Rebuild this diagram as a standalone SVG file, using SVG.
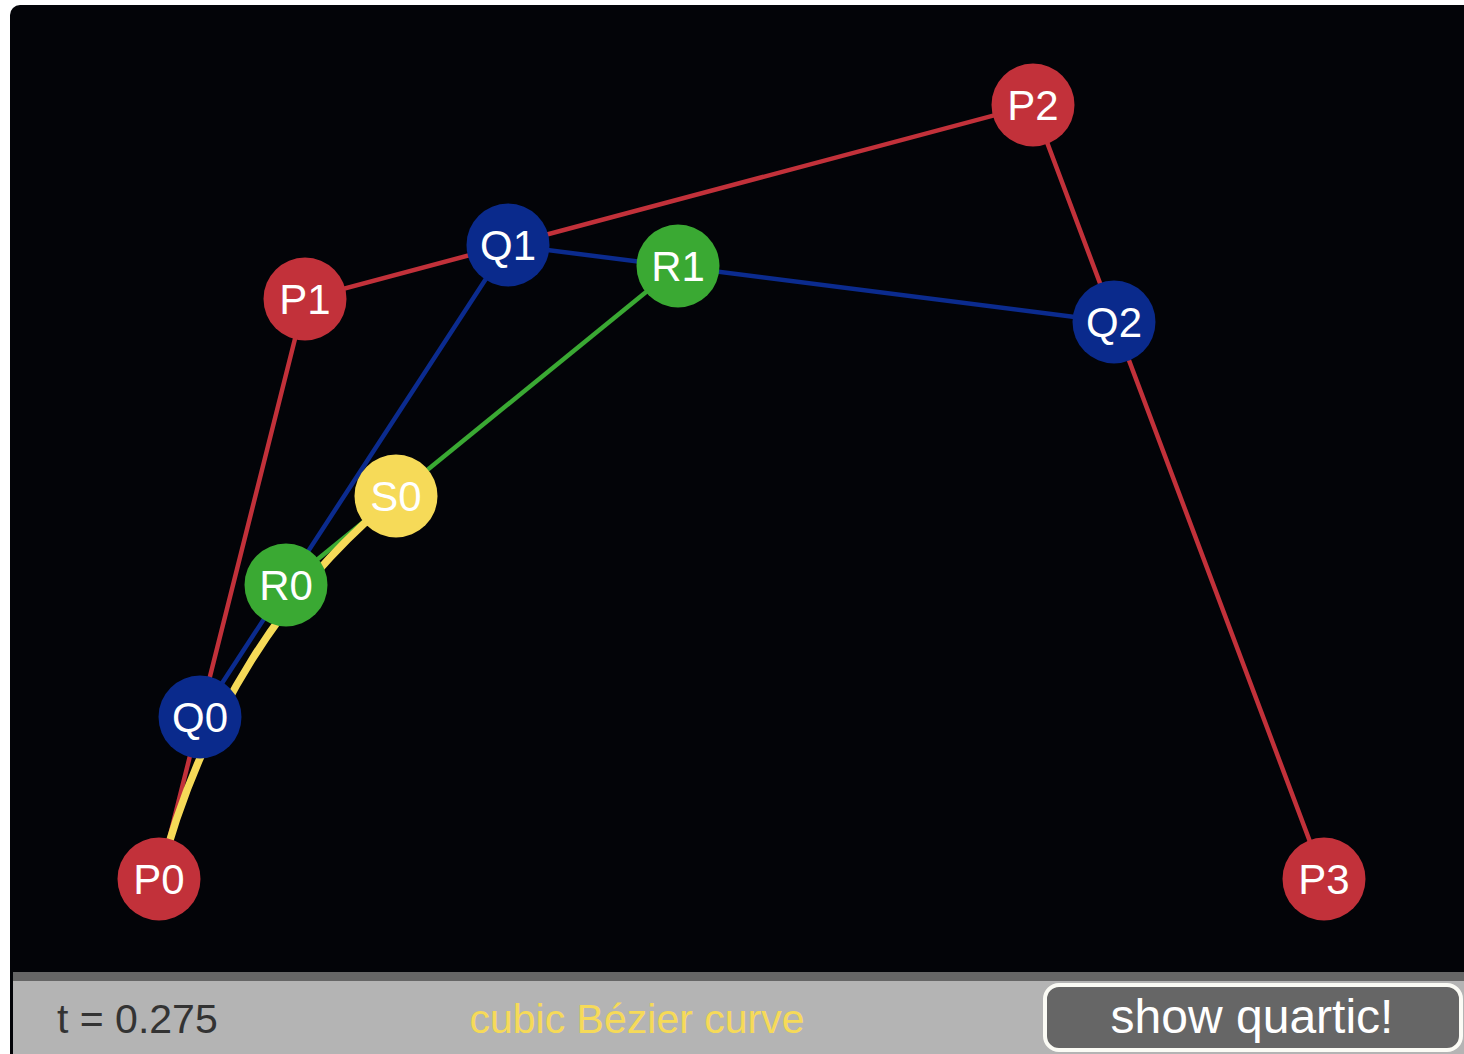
<svg xmlns="http://www.w3.org/2000/svg" width="1464" height="1054" viewBox="0 0 1464 1054">
<style>
.lbl{font-family:"Liberation Sans",Arial,sans-serif;font-size:42px;fill:#ffffff;text-anchor:middle}
.red{fill:#c2313a}.blue{fill:#0a2a8c}.green{fill:#3aa933}.yellow{fill:#f6da58}
.lr{stroke:#c2313a;stroke-width:4.5;fill:none}
.lb{stroke:#0b2b8e;stroke-width:4.5;fill:none}
.lg{stroke:#3aa933;stroke-width:4.5;fill:none}
.ly{stroke:#f6da58;stroke-width:7.5;fill:none;stroke-linecap:round}
.bar{font-family:"Liberation Sans",Arial,sans-serif}
</style>
<rect x="0" y="0" width="1464" height="1054" fill="#ffffff"/>
<rect x="10" y="5" width="1470" height="1070" rx="10" fill="#030408"/>
<rect x="13" y="972" width="1451" height="9" fill="#666666"/>
<rect x="13" y="981" width="1451" height="73" fill="#b4b4b4"/>
<g id="connectors">
<polyline class="lr" points="159,879 305,299 1033,105 1324,879"/>
<polyline class="lb" points="200,717 508,245 1114,322"/>
<line class="lg" x1="286" y1="585" x2="678" y2="266"/>
<path class="ly" d="M159,879 C200,717 286,585 396,496"/>
</g>
<g id="P0"><circle class="red" cx="159" cy="879" r="41.5"/><text class="lbl" x="159" y="894">P0</text></g>
<g id="P1"><circle class="red" cx="305" cy="299" r="41.5"/><text class="lbl" x="305" y="314">P1</text></g>
<g id="P2"><circle class="red" cx="1033" cy="105" r="41.5"/><text class="lbl" x="1033" y="120">P2</text></g>
<g id="P3"><circle class="red" cx="1324" cy="879" r="41.5"/><text class="lbl" x="1324" y="894">P3</text></g>
<g id="Q0"><circle class="blue" cx="200" cy="717" r="41.5"/><text class="lbl" x="200" y="732">Q0</text></g>
<g id="Q1"><circle class="blue" cx="508" cy="245" r="41.5"/><text class="lbl" x="508" y="260">Q1</text></g>
<g id="Q2"><circle class="blue" cx="1114" cy="322" r="41.5"/><text class="lbl" x="1114" y="337">Q2</text></g>
<g id="R0"><circle class="green" cx="286" cy="585" r="41.5"/><text class="lbl" x="286" y="600">R0</text></g>
<g id="R1"><circle class="green" cx="678" cy="266" r="41.5"/><text class="lbl" x="678" y="281">R1</text></g>
<g id="S0"><circle class="yellow" cx="396" cy="496" r="41.5"/><text class="lbl" x="396" y="511">S0</text></g>
<text class="bar" x="57" y="1033" font-size="41" fill="#333333">t = 0.275</text>
<text class="bar" x="637" y="1033" font-size="41" fill="#f6da58" text-anchor="middle">cubic Bézier curve</text>
<g id="button">
<rect x="1045" y="985" width="416" height="65" rx="14" fill="#666666" stroke="#fbfbf5" stroke-width="4"/>
<text class="bar" x="1252" y="1033" font-size="48" fill="#ffffff" text-anchor="middle">show quartic!</text>
</g>
</svg>
